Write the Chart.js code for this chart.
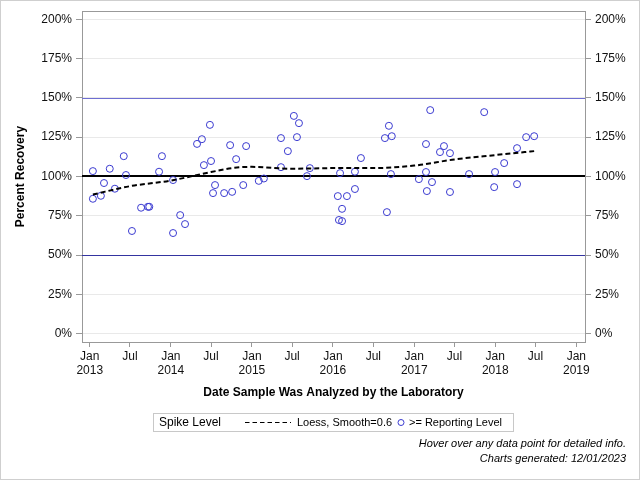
<!DOCTYPE html>
<html>
<head>
<meta charset="utf-8">
<title>Percent Recovery</title>
<script src="https://cdn.jsdelivr.net/npm/chart.js@4.4.0/dist/chart.umd.min.js"></script>
<style>
  html, body { margin: 0; padding: 0; background: #fff; }
  #wrap { width: 640px; height: 480px; }
</style>
</head>
<body>
<div id="wrap"><canvas id="recoveryChart" width="640" height="480"></canvas></div>
<script>
// Spike samples: date analyzed and percent recovery
const sampleDates = [
  '2013-01-15', '2013-01-15', '2013-02-20', '2013-03-06', '2013-04-01', '2013-04-24',
  '2013-06-03', '2013-06-13', '2013-07-10', '2013-08-20', '2013-09-20', '2013-09-26',
  '2013-11-09', '2013-11-22', '2014-01-11', '2014-01-11', '2014-02-12', '2014-03-06',
  '2014-04-29', '2014-05-21', '2014-05-30', '2014-06-26', '2014-07-01', '2014-07-10',
  '2014-07-19', '2014-08-29', '2014-09-25', '2014-10-04', '2014-10-22', '2014-11-23',
  '2014-12-06', '2015-02-01', '2015-02-24', '2015-05-12', '2015-05-12', '2015-06-12',
  '2015-07-09', '2015-07-23', '2015-08-01', '2015-09-06', '2015-09-19', '2016-01-23',
  '2016-02-02', '2016-01-28', '2016-02-11', '2016-02-11', '2016-03-04', '2016-04-09',
  '2016-04-09', '2016-05-06', '2016-08-22', '2016-08-31', '2016-09-09', '2016-09-18',
  '2016-09-22', '2017-01-22', '2017-02-23', '2017-02-23', '2017-02-27', '2017-03-14',
  '2017-03-22', '2017-04-27', '2017-05-15', '2017-06-11', '2017-06-11', '2017-09-05',
  '2017-11-12', '2017-12-27', '2017-12-31', '2018-02-10', '2018-04-09', '2018-04-09',
  '2018-05-20', '2018-06-25'
];
const recoveryPct = [
  103.4, 85.8, 87.7, 95.8, 104.9, 92.2,
  112.9, 100.9, 65.3, 80.1, 80.7, 80.7,
  103.0, 112.9, 64.0, 97.7, 75.4, 69.7,
  120.7, 123.7, 107.2, 132.8, 109.8, 89.4,
  94.5, 89.4, 119.9, 90.2, 111.0, 94.5,
  119.3, 97.2, 98.7, 124.4, 105.9, 116.1,
  138.5, 125.0, 133.9, 100.2, 105.3, 87.5,
  102.1, 72.3, 71.6, 79.4, 87.5, 92.0,
  103.0, 111.7, 124.4, 77.3, 132.2, 101.5,
  125.6, 98.3, 120.6, 102.8, 90.7, 142.2,
  96.4, 115.5, 119.3, 114.8, 90.1, 101.5,
  140.9, 93.2, 102.8, 108.5, 118.0, 95.1,
  125.0, 125.6
];

// Loess fit (Smooth=0.6)
const loessDates = [
  '2013-01-15', '2013-07-01', '2014-01-01', '2014-07-01', '2014-10-15', '2015-01-01',
  '2015-07-01', '2016-01-01', '2016-07-01', '2017-01-01', '2017-07-01', '2018-01-01',
  '2018-06-25'
];
const loessPct = [88.5, 93.8, 97.4, 102.8, 105.5, 106.1, 104.9, 105.3, 105.3, 106.9, 110.8, 113.6, 116.1];

// Reference lines (percent) and their looks
const refValues = [50, 100, 150];
const refColors = ['#3434a0', '#000000', '#6e6ed2'];
const refWidths = [1, 2, 1];

// Axis ticks
const yTicks = [0, 25, 50, 75, 100, 125, 150, 175, 200];
const xTickDates = [
  '2013-01-01', '2013-07-01', '2014-01-01', '2014-07-01', '2015-01-01', '2015-07-01',
  '2016-01-01', '2016-07-01', '2017-01-01', '2017-07-01', '2018-01-01', '2018-07-01',
  '2019-01-01'
];
const xTickLabels = [
  ['Jan', '2013'], ['Jul'], ['Jan', '2014'], ['Jul'], ['Jan', '2015'], ['Jul'],
  ['Jan', '2016'], ['Jul'], ['Jan', '2017'], ['Jul'], ['Jan', '2018'], ['Jul'],
  ['Jan', '2019']
];

// days since 2013-01-01
function dayNum(s) {
  const [y, m, d] = s.split('-').map(Number);
  return (Date.UTC(y, m - 1, d) - Date.UTC(2013, 0, 1)) / 86400000;
}

const xTickDays = xTickDates.map(dayNum);
const samplePoints = sampleDates.map((d, i) => ({ x: dayNum(d), y: recoveryPct[i] }));
const loessPoints = loessDates.map((d, i) => ({ x: dayNum(d), y: loessPct[i] }));

const FONT = "'Liberation Sans', Arial, sans-serif";
const POINT_BLUE = '#3a3ad0';

// reference lines go under the marks
const refLinePlugin = {
  id: 'refLines',
  beforeDatasetsDraw(chart) {
    const { ctx, chartArea: a, scales: { y } } = chart;
    ctx.save();
    refValues.forEach((v, i) => {
      const w = refWidths[i];
      let py = Math.round(y.getPixelForValue(v));
      if (w % 2 === 1) py += 0.5;
      ctx.strokeStyle = refColors[i];
      ctx.lineWidth = w;
      ctx.beginPath();
      ctx.moveTo(a.left, py);
      ctx.lineTo(a.right, py);
      ctx.stroke();
    });
    ctx.restore();
  }
};

// frame, legend and footnotes
const decorPlugin = {
  id: 'decor',
  afterDraw(chart) {
    const { ctx, chartArea: a } = chart;
    ctx.save();

    // outer border
    ctx.strokeStyle = '#cfcfcf';
    ctx.lineWidth = 1;
    ctx.strokeRect(0.5, 0.5, 639, 479);

    // top edge of the plot frame
    ctx.strokeStyle = '#999999';
    ctx.beginPath();
    ctx.moveTo(a.left, Math.round(a.top) + 0.5);
    ctx.lineTo(a.right, Math.round(a.top) + 0.5);
    ctx.stroke();

    // legend
    const ly = 422.5;
    ctx.strokeStyle = '#c8c8c8';
    ctx.strokeRect(153.5, 413.5, 360, 18);
    ctx.fillStyle = '#000';
    ctx.textBaseline = 'middle';
    ctx.textAlign = 'left';
    ctx.font = '12px ' + FONT;
    ctx.fillText('Spike Level', 159, ly);

    ctx.strokeStyle = '#000';
    ctx.lineWidth = 1.2;
    ctx.setLineDash([4.5, 3]);
    ctx.beginPath();
    ctx.moveTo(245, ly);
    ctx.lineTo(291, ly);
    ctx.stroke();
    ctx.setLineDash([]);

    ctx.font = '11px ' + FONT;
    ctx.fillText(chart.data.datasets[1].label, 297, ly);

    ctx.strokeStyle = POINT_BLUE;
    ctx.lineWidth = 1;
    ctx.beginPath();
    ctx.arc(401, ly, 3, 0, Math.PI * 2);
    ctx.stroke();
    ctx.fillText(chart.data.datasets[0].label, 409, ly);

    // footnotes
    ctx.font = 'italic 11px ' + FONT;
    ctx.textAlign = 'right';
    ctx.fillText('Hover over any data point for detailed info.', 626, 444);
    ctx.fillText('Charts generated: 12/01/2023', 626, 459);

    ctx.restore();
  }
};

const ctx = document.getElementById('recoveryChart').getContext('2d');
const chart = new Chart(ctx, {
  type: 'scatter',
  data: {
    datasets: [
      {
        label: '>= Reporting Level',
        data: samplePoints,
        pointStyle: 'circle',
        pointRadius: 3.5,
        pointBorderWidth: 1,
        pointBorderColor: POINT_BLUE,
        pointBackgroundColor: 'rgba(0,0,0,0)',
        showLine: false,
        order: 2
      },
      {
        label: 'Loess, Smooth=0.6',
        type: 'line',
        data: loessPoints,
        borderColor: '#000',
        borderWidth: 2,
        borderDash: [5, 3],
        pointRadius: 0,
        fill: false,
        cubicInterpolationMode: 'monotone',
        order: 1
      }
    ]
  },
  options: {
    responsive: false,
    animation: false,
    devicePixelRatio: 1,
    layout: { padding: { top: 11, bottom: 76, left: 0, right: 0 } },
    plugins: {
      legend: { display: false },
      tooltip: { enabled: false }
    },
    scales: {
      x: {
        type: 'linear',
        min: -35,
        max: 2230,
        afterBuildTicks: s => { s.ticks = xTickDays.map(v => ({ value: v })); },
        afterFit: s => { s.height = 62; },
        grid: { drawOnChartArea: false, tickLength: 5, color: '#999999' },
        border: { color: '#999999' },
        ticks: {
          padding: 3,
          maxRotation: 0,
          autoSkip: false,
          color: '#111',
          font: { family: FONT, size: 12, lineHeight: 1.15 },
          callback: v => xTickLabels[xTickDays.indexOf(v)]
        },
        title: {
          display: true,
          text: 'Date Sample Was Analyzed by the Laboratory',
          color: '#000',
          font: { family: FONT, size: 12, weight: 'bold' },
          padding: { top: 0, bottom: 4 }
        }
      },
      y: {
        position: 'left',
        min: -5.3,
        max: 205.1,
        afterBuildTicks: s => { s.ticks = yTicks.map(v => ({ value: v })); },
        afterFit: s => { s.width = 82; },
        grid: { color: '#e9e9e9', tickColor: '#999999', tickLength: 6 },
        border: { color: '#999999' },
        ticks: {
          padding: 4,
          color: '#111',
          font: { family: FONT, size: 12 },
          callback: v => v + '%'
        },
        title: {
          display: true,
          text: 'Percent Recovery',
          color: '#000',
          font: { family: FONT, size: 12, weight: 'bold' },
          padding: { top: 13, bottom: 0 }
        }
      },
      y2: {
        position: 'right',
        min: -5.3,
        max: 205.1,
        afterBuildTicks: s => { s.ticks = yTicks.map(v => ({ value: v })); },
        afterFit: s => { s.width = 55; },
        grid: { drawOnChartArea: false, color: '#999999', tickLength: 6 },
        border: { color: '#999999' },
        ticks: {
          padding: 4,
          color: '#111',
          font: { family: FONT, size: 12 },
          callback: v => v + '%'
        }
      }
    }
  },
  plugins: [refLinePlugin, decorPlugin]
});
</script>
</body>
</html>
